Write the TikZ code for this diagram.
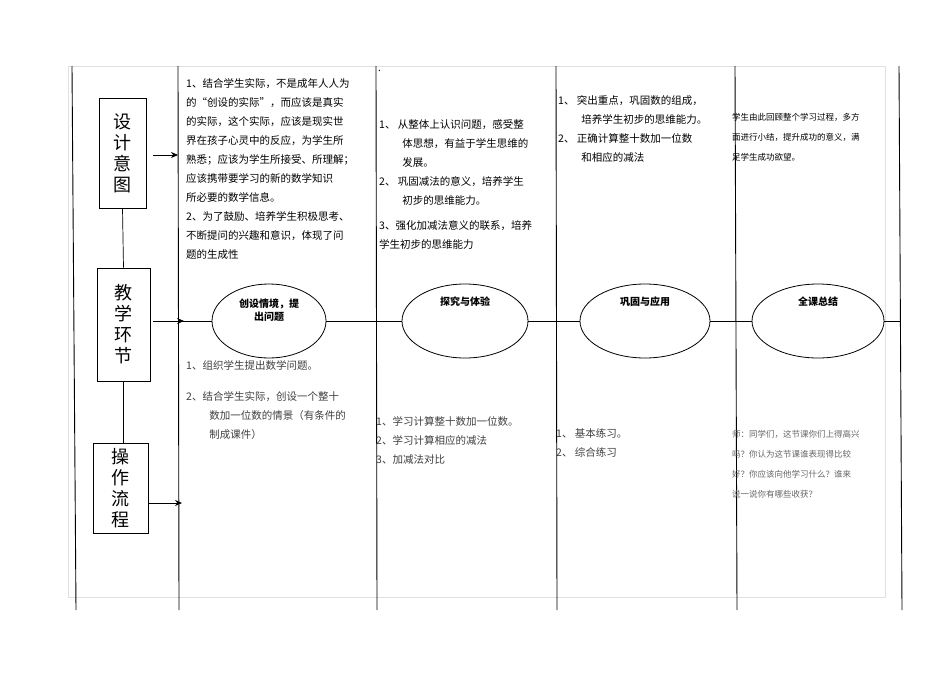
\documentclass[tikz,border=0pt]{standalone}
\usepackage{fontspec}
\setmainfont{Noto Sans CJK SC}
\usetikzlibrary{arrows.meta,shapes.geometric}
\begin{document}
\begin{tikzpicture}[x=1pt,y=-1pt,
  vline/.style={line width=0.9pt},
  bigbox/.style={draw,line width=0.8pt,font=\fontsize{18}{21}\selectfont,align=center,inner sep=0pt},
  arr/.style={-{Stealth[length=7pt,width=6pt]},line width=0.7pt},
  stage/.style={draw,ellipse,line width=0.8pt},
  txt/.style={anchor=north west,align=left,inner sep=0pt,font=\fontsize{10.5}{19}\selectfont},
  small/.style={anchor=north west,align=left,inner sep=0pt,font=\fontsize{8.5}{20}\selectfont},
  lab/.style={font=\bfseries\fontsize{10}{13}\selectfont,align=center}]
\useasboundingbox (0,0) rectangle (950,672);
\fill[white] (0,0) rectangle (950,672);
\draw[black!12] (68,66) rectangle (885,597);
\draw[vline] (72,66) -- (76,610);
\draw[vline] (178,66) -- (179,610);
\draw[vline] (376,66) -- (377,610);
\draw[vline] (556,66) -- (557,610);
\draw[vline] (735,66) -- (737,610);
\draw[vline] (899,66) -- (902,610);
% left boxes
\node[bigbox,minimum width=47,minimum height=110] (b1) at (122.5,153) {设\\计\\意\\图};
\node[bigbox,minimum width=53,minimum height=113] (b2) at (123.5,324.5) {教\\学\\环\\节};
\node[bigbox,minimum width=55,minimum height=90] (b3) at (120.5,488) {操\\作\\流\\程};
\draw[line width=0.7pt] (b1.south) -- (b2.north);
\draw[line width=0.7pt] (b2.south) -- (b2.south|-b3.north);
\coordinate (a1) at (153,155); \coordinate (t1) at (178,155);
\coordinate (a2) at (153,321); \coordinate (t2) at (184,321);
\coordinate (a3) at (148,503); \coordinate (t3) at (182,503);
\draw[arr] (a1) -- (t1);
\draw[arr] (a2) -- (t2);
\draw[arr] (a3) -- (t3);
% ellipses
\node[stage,minimum width=114,minimum height=74] (e1) at (269,321) {};
\node[stage,minimum width=126,minimum height=74] (e2) at (465,321) {};
\node[stage,minimum width=130,minimum height=74] (e3) at (645,321) {};
\node[stage,minimum width=132,minimum height=74] (e4) at (818,321) {};
\coordinate (h0) at (178,321); \coordinate (h1) at (900,321);
\draw[line width=0.7pt] (h0) -- (e1.west) (e1.east) -- (e2.west) (e2.east) -- (e3.west) (e3.east) -- (e4.west) (e4.east) -- (h1);
\node[lab] (l1) at (269,310) {创设情境，提\\出问题};
\node[lab] (l2) at (465,302) {探究与体验};
\node[lab] (l3) at (645,302) {巩固与应用};
\node[lab] (l4) at (818,302) {全课总结};
% top texts
\node[txt] (c1) at (186,78) {1、结合学生实际，不是成年人人为\\的“创设的实际”，而应该是真实\\的实际，这个实际，应该是现实世\\界在孩子心灵中的反应，为学生所\\熟悉；应该为学生所接受、所理解；\\应该携带要学习的新的数学知识\\所必要的数学信息。\\2、为了鼓励、培养学生积极思考、\\不断提问的兴趣和意识，体现了问\\题的生成性};
\node[txt] (dot) at (378,70) {.};
\node[txt] (c2) at (379,119) {1、 从整体上认识问题，感受整\\\hspace*{2.2em}体思想，有益于学生思维的\\\hspace*{2.2em}发展。\\2、 巩固减法的意义，培养学生\\\hspace*{2.2em}初步的思维能力。\\[6pt]3、强化加减法意义的联系，培养\\学生初步的思维能力};
\node[txt] (c3) at (558,95) {1、 突出重点，巩固数的组成，\\\hspace*{2.2em}培养学生初步的思维能力。\\2、 正确计算整十数加一位数\\\hspace*{2.2em}和相应的减法};
\node[small] (c4) at (732,113) {学生由此回顾整个学习过程，多方\\面进行小结，提升成功的意义，满\\足学生成功欲望。};
% bottom texts
\node[txt,black!75] (d1) at (186,360) {1、组织学生提出数学问题。\\[12pt]2、结合学生实际，创设一个整十\\\hspace*{2.2em}数加一位数的情景（有条件的\\\hspace*{2.2em}制成课件）};
\node[txt,black!75] (d2) at (376,416) {1、学习计算整十数加一位数。\\2、学习计算相应的减法\\3、加减法对比};
\node[txt,black!75] (d3) at (556,428) {1、 基本练习。\\2、 综合练习};
\node[small,black!60] (d4) at (732,430) {师：同学们，这节课你们上得高兴\\吗？你认为这节课谁表现得比较\\好？你应该向他学习什么？谁来\\说一说你有哪些收获？};
\end{tikzpicture}
\end{document}
